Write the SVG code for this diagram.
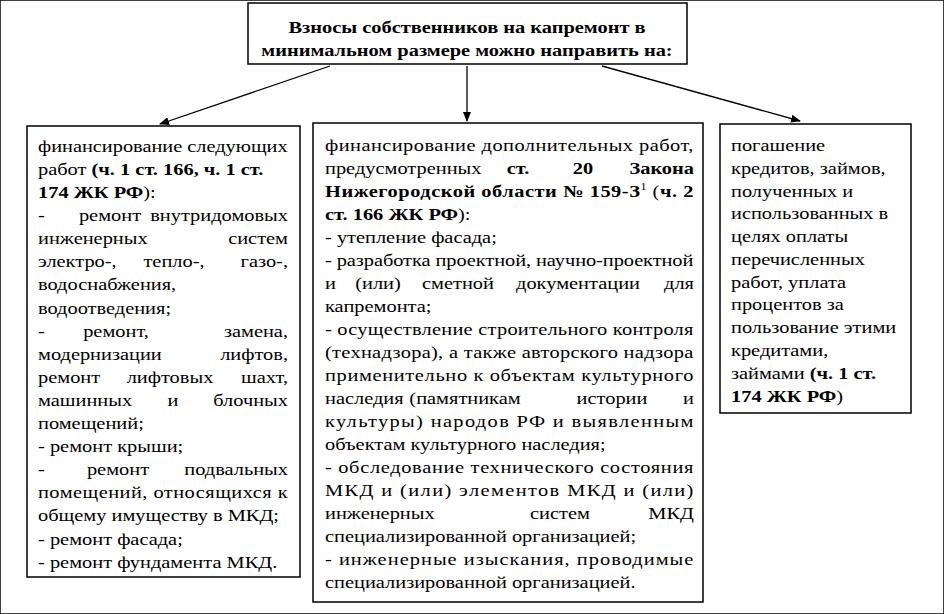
<svg xmlns="http://www.w3.org/2000/svg" width="944" height="614" viewBox="0 0 944 614">
<style>
text{font-size:17px;fill:#000}
.b{font-weight:bold}
.e{text-anchor:end}
.m{text-anchor:middle}
rect{fill:#fff;stroke:#000;stroke-width:1.5}
.c line{stroke:#000;stroke-width:1.3;marker-end:url(#ah)}
</style>
<defs><marker id="ah" markerWidth="10" markerHeight="8" refX="9" refY="4" orient="auto" markerUnits="userSpaceOnUse"><path d="M0,0 L10,4 L0,8 z" fill="#000"/></marker></defs>
<rect width="944" height="614" fill="#fff" stroke="none"/>
<g font-family="Liberation Serif, Times New Roman, serif">
<g id="top">
<rect x="248" y="3" width="439" height="61"/>
<text class="b m" transform="translate(467,33) scale(1.2,1)">Взносы собственников на капремонт в</text>
<text class="b m" transform="translate(467,56) scale(1.2,1)">минимальном размере можно направить на:</text>
</g>
<g class="c" id="connectors">
<line x1="330" y1="66" x2="160" y2="124"/>
<line x1="467" y1="66" x2="467" y2="121"/>
<line x1="602" y1="66" x2="800" y2="121"/>
</g>
<g id="left">
<rect x="27" y="126" width="273" height="451"/>
<text transform="translate(38,152) scale(1.2,1)" textLength="208" lengthAdjust="spacingAndGlyphs">финансирование следующих</text>
<text transform="translate(38,175) scale(1.2,1)">работ <tspan class="b">(ч. 1 ст. 166, ч. 1 ст.</tspan></text>
<text transform="translate(38,198) scale(1.2,1)"><tspan class="b">174 ЖК РФ</tspan>):</text>
<text transform="translate(38,221) scale(1.2,1)">-</text><text class="m" transform="translate(110,221) scale(1.2,1)">ремонт</text><text class="e" transform="translate(288,221) scale(1.2,1)">внутридомовых</text>
<text transform="translate(38,244) scale(1.2,1)">инженерных</text><text class="e" transform="translate(288,244) scale(1.2,1)">систем</text>
<text transform="translate(38,267) scale(1.2,1)">электро-,</text><text class="m" transform="translate(174,267) scale(1.2,1)">тепло-,</text><text class="e" transform="translate(288,267) scale(1.2,1)">газо-,</text>
<text transform="translate(38,290) scale(1.2,1)">водоснабжения,</text>
<text transform="translate(38,314) scale(1.2,1)">водоотведения;</text>
<text transform="translate(38,337) scale(1.2,1)">-</text><text class="m" transform="translate(116,337) scale(1.2,1)">ремонт,</text><text class="e" transform="translate(288,337) scale(1.2,1)">замена,</text>
<text transform="translate(38,360) scale(1.2,1)">модернизации</text><text class="e" transform="translate(288,360) scale(1.2,1)">лифтов,</text>
<text transform="translate(38,383) scale(1.2,1)">ремонт</text><text class="m" transform="translate(170,383) scale(1.2,1)">лифтовых</text><text class="e" transform="translate(288,383) scale(1.2,1)">шахт,</text>
<text transform="translate(38,406) scale(1.2,1)">машинных</text><text class="m" transform="translate(173,406) scale(1.2,1)">и</text><text class="e" transform="translate(288,406) scale(1.2,1)">блочных</text>
<text transform="translate(38,429) scale(1.2,1)">помещений;</text>
<text transform="translate(38,452) scale(1.2,1)">- ремонт крыши;</text>
<text transform="translate(38,475) scale(1.2,1)">-</text><text class="m" transform="translate(118,475) scale(1.2,1)">ремонт</text><text class="e" transform="translate(288,475) scale(1.2,1)">подвальных</text>
<text transform="translate(38,498) scale(1.2,1)" textLength="208" lengthAdjust="spacing">помещений, относящихся к</text>
<text transform="translate(38,521) scale(1.2,1)">общему имуществу в МКД;</text>
<text transform="translate(38,545) scale(1.2,1)">- ремонт фасада;</text>
<text transform="translate(38,568) scale(1.2,1)">- ремонт фундамента МКД.</text>
</g>
<g id="middle">
<rect x="313" y="123" width="390" height="479"/>
<text transform="translate(325,151) scale(1.2,1)" textLength="307" lengthAdjust="spacing">финансирование дополнительных работ,</text>
<text transform="translate(325,174) scale(1.2,1)">предусмотренных</text><text class="b m" transform="translate(518,174) scale(1.2,1)">ст.</text><text class="b m" transform="translate(583,174) scale(1.2,1)">20</text><text class="b e" transform="translate(694,174) scale(1.2,1)">Закона</text>
<text transform="translate(325,197) scale(1.2,1)" textLength="307" lengthAdjust="spacing"><tspan class="b">Нижегородской области № 159-З</tspan><tspan font-size="10" dy="-7">1</tspan><tspan dy="7"> (</tspan><tspan class="b">ч. 2</tspan></text>
<text transform="translate(325,220) scale(1.2,1)"><tspan class="b">ст. 166 ЖК РФ</tspan>):</text>
<text transform="translate(325,243) scale(1.2,1)">- утепление фасада;</text>
<text transform="translate(325,266) scale(1.2,1)" textLength="307" lengthAdjust="spacing">- разработка проектной, научно-проектной</text>
<text transform="translate(325,289) scale(1.2,1)">и</text><text class="m" transform="translate(378,289) scale(1.2,1)">(или)</text><text class="m" transform="translate(458,289) scale(1.2,1)">сметной</text><text class="m" transform="translate(578,289) scale(1.2,1)">документации</text><text class="e" transform="translate(694,289) scale(1.2,1)">для</text>
<text transform="translate(325,312) scale(1.2,1)">капремонта;</text>
<text transform="translate(325,335) scale(1.2,1)" textLength="307" lengthAdjust="spacing">- осуществление строительного контроля</text>
<text transform="translate(325,358) scale(1.2,1)" textLength="307" lengthAdjust="spacing">(технадзора), а также авторского надзора</text>
<text transform="translate(325,381) scale(1.2,1)" textLength="307" lengthAdjust="spacing">применительно к объектам культурного</text>
<text transform="translate(325,404) scale(1.2,1)">наследия</text><text class="m" transform="translate(465,404) scale(1.2,1)">(памятникам</text><text class="m" transform="translate(612,404) scale(1.2,1)">истории</text><text class="e" transform="translate(694,404) scale(1.2,1)">и</text>
<text transform="translate(325,427) scale(1.2,1)" textLength="307" lengthAdjust="spacing">культуры) народов РФ и выявленным</text>
<text transform="translate(325,450) scale(1.2,1)">объектам культурного наследия;</text>
<text transform="translate(325,473) scale(1.2,1)" textLength="307" lengthAdjust="spacing">- обследование технического состояния</text>
<text transform="translate(325,496) scale(1.2,1)" textLength="307" lengthAdjust="spacing">МКД и (или) элементов МКД и (или)</text>
<text transform="translate(325,519) scale(1.2,1)">инженерных</text><text class="m" transform="translate(560,519) scale(1.2,1)">систем</text><text class="e" transform="translate(694,519) scale(1.2,1)">МКД</text>
<text transform="translate(325,542) scale(1.2,1)">специализированной организацией;</text>
<text transform="translate(325,565) scale(1.2,1)" textLength="307" lengthAdjust="spacing">- инженерные изыскания, проводимые</text>
<text transform="translate(325,588) scale(1.2,1)">специализированной организацией.</text>
</g>
<g id="right">
<rect x="720" y="124" width="191" height="289"/>
<text transform="translate(731,151) scale(1.2,1)">погашение</text>
<text transform="translate(731,174) scale(1.2,1)">кредитов, займов,</text>
<text transform="translate(731,197) scale(1.2,1)">полученных и</text>
<text transform="translate(731,219) scale(1.2,1)">использованных в</text>
<text transform="translate(731,242) scale(1.2,1)">целях оплаты</text>
<text transform="translate(731,265) scale(1.2,1)">перечисленных</text>
<text transform="translate(731,288) scale(1.2,1)">работ, уплата</text>
<text transform="translate(731,310) scale(1.2,1)">процентов за</text>
<text transform="translate(731,333) scale(1.2,1)">пользование этими</text>
<text transform="translate(731,356) scale(1.2,1)">кредитами,</text>
<text transform="translate(731,379) scale(1.2,1)">займами <tspan class="b">(ч. 1 ст.</tspan></text>
<text transform="translate(731,402) scale(1.2,1)"><tspan class="b">174 ЖК РФ</tspan>)</text>
</g>
</g>
</svg>
